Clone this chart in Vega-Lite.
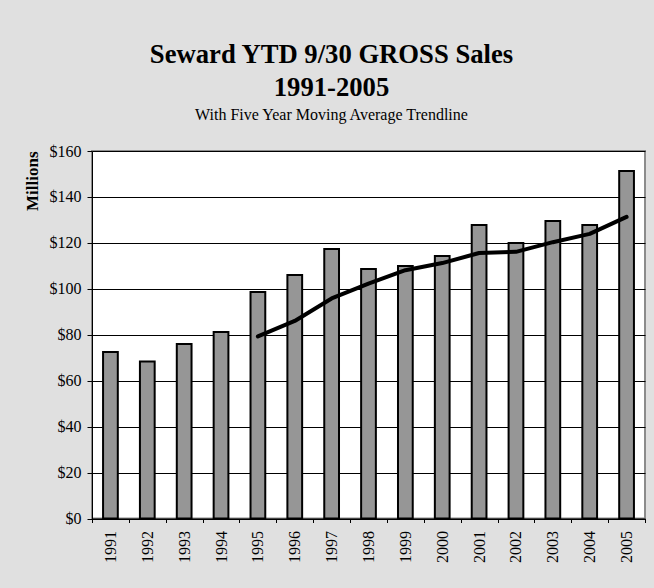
{
  "$schema": "https://vega.github.io/schema/vega-lite/v6.json",
  "width": 553,
  "height": 367.5,
  "autosize": {"type": "none"},
  "padding": {"left": 92, "top": 151, "right": 9, "bottom": 69.5},
  "background": "#e0e0e0",
  "title": {
    "text": ["Seward YTD 9/30 GROSS Sales", "1991-2005"],
    "subtitle": "With Five Year Moving Average Trendline",
    "font": "Liberation Serif",
    "fontSize": 26.67,
    "fontWeight": "bold",
    "lineHeight": 33.4,
    "color": "#000",
    "subtitleFont": "Liberation Serif",
    "subtitleFontSize": 16,
    "subtitleFontWeight": "normal",
    "subtitleColor": "#000",
    "subtitlePadding": 5,
    "offset": 20,
    "dx": -37,
    "anchor": "middle"
  },
  "data": {
    "values": [
      {"year": "1991", "sales": 72.5, "ma": null},
      {"year": "1992", "sales": 68.4, "ma": null},
      {"year": "1993", "sales": 76.0, "ma": null},
      {"year": "1994", "sales": 81.2, "ma": null},
      {"year": "1995", "sales": 98.6, "ma": 79.3},
      {"year": "1996", "sales": 106.0, "ma": 86.0},
      {"year": "1997", "sales": 117.3, "ma": 95.8},
      {"year": "1998", "sales": 108.6, "ma": 102.3},
      {"year": "1999", "sales": 109.9, "ma": 108.1},
      {"year": "2000", "sales": 114.3, "ma": 111.2},
      {"year": "2001", "sales": 127.8, "ma": 115.6},
      {"year": "2002", "sales": 119.9, "ma": 116.1},
      {"year": "2003", "sales": 129.5, "ma": 120.3},
      {"year": "2004", "sales": 127.8, "ma": 123.9},
      {"year": "2005", "sales": 151.3, "ma": 131.3}
    ]
  },
  "encoding": {
    "x": {
      "field": "year",
      "type": "ordinal",
      "scale": {"paddingInner": 0, "paddingOuter": 0},
      "axis": {
        "title": null,
        "labelAngle": -90,
        "labelFont": "Liberation Serif",
        "labelFontSize": 16,
        "labelColor": "#000",
        "labelPadding": 8,
        "tickSize": 4,
        "tickBand": "extent",
        "tickColor": "#000",
        "domainColor": "#000",
        "grid": false
      }
    }
  },
  "layer": [
    {
      "mark": {"type": "bar", "fill": "#969696", "stroke": "#000", "strokeWidth": 2, "width": {"band": 0.4}},
      "encoding": {
        "y": {
          "field": "sales",
          "type": "quantitative",
          "scale": {"domain": [0, 160], "nice": false},
          "axis": {
            "title": "Millions",
            "titleFont": "Liberation Serif",
            "titleFontSize": 17,
            "titleFontWeight": "bold",
            "titleColor": "#000",
            "titleAnchor": "end",
            "titlePadding": 8,
            "values": [0, 20, 40, 60, 80, 100, 120, 140, 160],
            "format": "$,.0f",
            "labelFont": "Liberation Serif",
            "labelFontSize": 16,
            "labelColor": "#000",
            "labelPadding": 6,
            "tickSize": 5,
            "tickColor": "#000",
            "domainColor": "#000",
            "grid": true,
            "gridColor": "#000",
            "gridWidth": 1
          }
        }
      }
    },
    {
      "transform": [{"filter": "datum.ma != null"}],
      "mark": {"type": "line", "color": "#000", "strokeWidth": 4, "strokeCap": "round", "strokeJoin": "round"},
      "encoding": {
        "y": {"field": "ma", "type": "quantitative", "title": "Millions"}
      }
    }
  ],
  "config": {
    "view": {"fill": "#fff", "stroke": "#8c8c8c", "strokeWidth": 2}
  }
}
